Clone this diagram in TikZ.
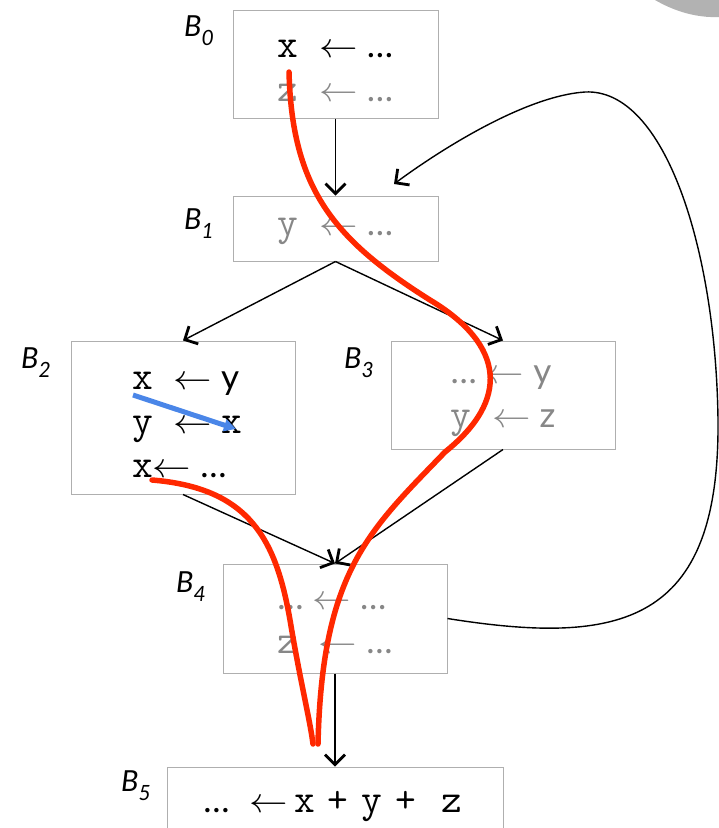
\documentclass[tikz,border=0pt]{standalone}
\usepackage{fix-cm}
\usepackage{fontspec}
\setmainfont{Lato}
\setmonofont{Latin Modern Mono}[Scale=1.15]
\usepackage{xcolor}
\usetikzlibrary{arrows.meta}
\definecolor{flowred}{RGB}{255,40,0}
\definecolor{flowblue}{RGB}{74,134,232}
\definecolor{boxgray}{RGB}{175,175,175}
\definecolor{dimgray}{RGB}{135,135,135}
\newcommand{\assign}{\scalebox{1.1}[1]{$\leftarrow$}}

\begin{document}
\begin{tikzpicture}[x=1pt, y=-1pt,
    >={Straight Barb[length=10pt, width=20pt, line width=2.8pt]},
    block/.style={draw=boxgray, line width=1pt, minimum width=205pt, minimum height=108pt, inner sep=0pt},
    code/.style={align=left, inner sep=0pt, font=\fontsize{35}{44}\selectfont},
    dim/.style={text=dimgray},
    blbl/.style={anchor=base west, inner sep=0pt, font=\fontsize{29}{30}\selectfont\itshape},
    arrow/.style={->, line width=1.4pt},
    flow/.style={line width=5.5pt, color=flowred, line cap=round},
]
\useasboundingbox (0,0) rectangle (719,828);
% blocks
\node[block] (b0) at (335.5,64) {};
\node[block, minimum height=65pt] (b1) at (335.5,228.5) {};
\node[block, minimum width=224pt, minimum height=153pt] (b2) at (183,417.5) {};
\node[block, minimum width=224pt] (b3) at (503,395) {};
\node[block, minimum width=224pt, minimum height=109pt] (b4) at (335,618.5) {};
\node[block, minimum width=336pt, minimum height=84pt] (b5) at (335,809) {};
% block contents
\node[code] (t0) at ([yshift=-7pt]b0.center) {\texttt{x }\assign{} \dots\\\textcolor{dimgray}{\texttt{z }\assign{} \dots}};
\node[code, dim] (t1) at ([yshift=-3pt]b1.center) {\texttt{y }\assign{} \dots};
\node[code] (t2) at ([xshift=4pt, yshift=-7pt]b2.center) {\texttt{x }\assign{} y\\\texttt{y }\assign{} \texttt{x}\\\texttt{x}\assign{} \dots};
\node[code, dim] (t3) at ([yshift=-6pt]b3.center) {\dots\ \assign{} y\\\texttt{y }\assign{} z};
\node[code, dim] (t4) at ([yshift=-7pt]b4.center) {\dots\ \assign{} \dots\\\texttt{z }\assign{} \dots};
\node[code] (t5) at (333,806) {\dots\hspace{20pt}\assign\hspace{6pt}\texttt{x}\hspace{13pt}\texttt{+}\hspace{13pt}\texttt{y}\hspace{13pt}\texttt{+}\hspace{26pt}\texttt{z}};
% block labels
\node[blbl] (l0) at (184,36) {B\raisebox{-9pt}{\fontsize{21}{21}\selectfont 0}};
\node[blbl] (l1) at (184,229) {B\raisebox{-9pt}{\fontsize{21}{21}\selectfont 1}};
\node[blbl] (l2) at (21,368) {B\raisebox{-9pt}{\fontsize{21}{21}\selectfont 2}};
\node[blbl] (l3) at (344,368) {B\raisebox{-9pt}{\fontsize{21}{21}\selectfont 3}};
\node[blbl] (l4) at (176,592) {B\raisebox{-9pt}{\fontsize{21}{21}\selectfont 4}};
\node[blbl] (l5) at (121,791) {B\raisebox{-9pt}{\fontsize{21}{21}\selectfont 5}};
% control flow edges
\draw[arrow] (b0.south) -- (b1.north);
\draw[arrow] (b1.south) -- (b2.north);
\draw[arrow] (b1.south) -- (b3.north);
\draw[arrow] (b2.south) -- (b4.north);
\draw[arrow] (b3.south) -- (b4.north);
\draw[arrow] (b4.south) -- (b5.north);
\coordinate (b1in) at (394,184);
\draw[arrow] (b4.east) .. controls (620,646) and (720,625) .. (718,420) .. controls (716,250) and (665,88) .. (585,92) .. controls (525,96) and (440,150) .. (b1in);
% def-use paths
\coordinate (x0) at (289,72);
\coordinate (x2) at (152,480);
\coordinate (use) at (318,744);
\draw[flow] (x0) .. controls (292,190) and (335,240) .. (430,300) .. controls (505,345) and (510,400) .. (445,452) .. controls (370,530) and (322,570) .. (use);
\draw[flow] (x2) .. controls (250,488) and (276,540) .. (290,620) .. controls (300,680) and (310,720) .. (313,744);
\draw[-{Triangle[length=12pt, width=12pt]}, line width=5pt, color=flowblue] (133,395) -- (236,429);
% corner of a picture
\fill[gray!60] (655,0) .. controls (674,11) and (696,18) .. (719,17) -- (719,0) -- cycle;
\end{tikzpicture}
\end{document}
